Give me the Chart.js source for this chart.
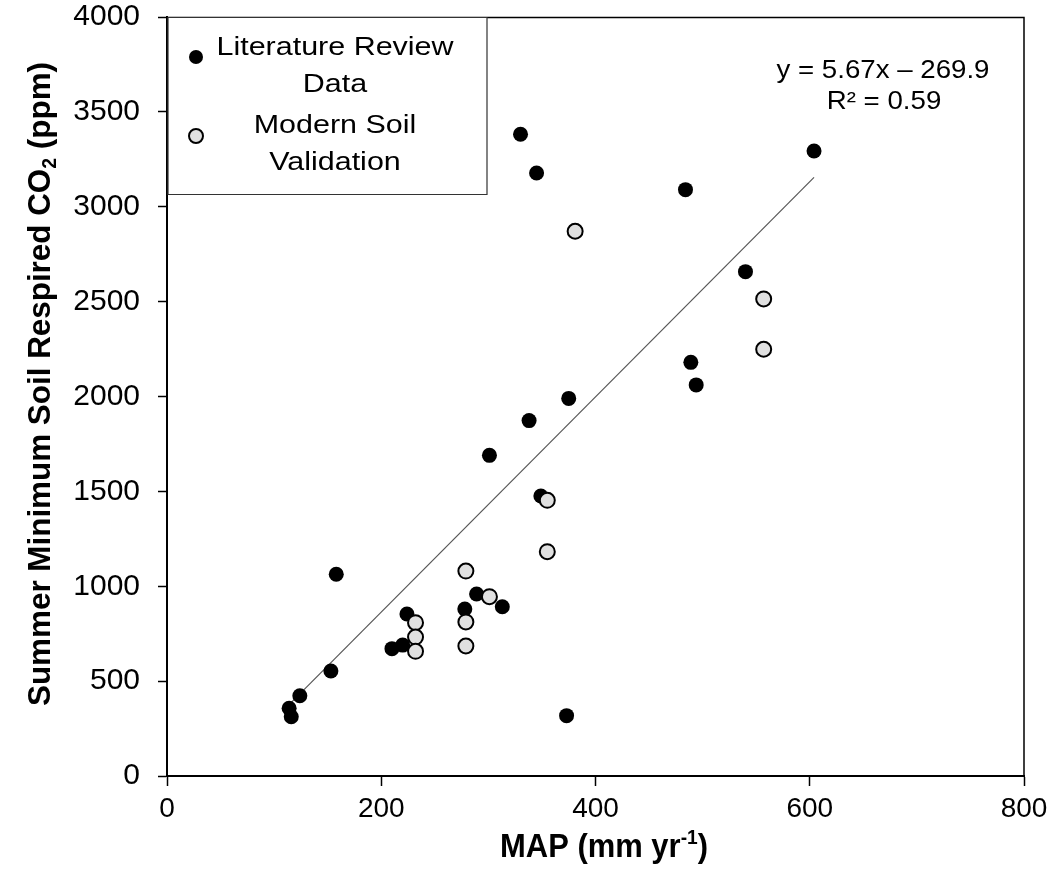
<!DOCTYPE html>
<html><head><meta charset="utf-8">
<script src="https://cdn.jsdelivr.net/npm/chart.js@4.4.1/dist/chart.umd.min.js"></script>
<style>html,body{margin:0;padding:0;background:#fff}#wrap{width:1054px;height:878px}</style>
</head><body><div id="wrap"><canvas id="c" width="1054" height="878"></canvas></div>
<script>
// ---- data ----
const litMAP = [114, 116, 124, 153, 158, 210, 220, 224, 278, 289, 313, 301, 338, 375, 330, 345, 349, 373, 484, 489, 494, 540, 604];
const litCO2 = [357, 312, 423, 553, 1063, 671, 690, 854, 880, 959, 892, 1690, 1873, 1990, 3382, 3178, 1476, 318, 3090, 2180, 2061, 2658, 3294];
const modMAP = [232, 232, 232, 279, 279, 279, 301, 355, 355, 381, 557, 557];
const modCO2 = [808, 732, 657, 1080, 812, 685, 945, 1453, 1182, 2871, 2514, 2249];
const trendMAP = [114, 604];
const trendCO2 = [376, 3155];
const xTicks = [0, 200, 400, 600, 800];
const yTicks = [0, 500, 1000, 1500, 2000, 2500, 3000, 3500, 4000];
const legendLabels = [["Literature Review", "Data"], ["Modern Soil", "Validation"]];
const eqLines = ["y = 5.67x \u2013 269.9", "R\u00b2 = 0.59"];

const toPts = (xs, ys) => xs.map((x, i) => ({x: x, y: ys[i]}));

function hasFont(name){
  const c = document.createElement('canvas').getContext('2d');
  c.font = '40px monospace'; const a = c.measureText('200 MAP Soil').width;
  c.font = "40px '" + name + "', monospace"; const b = c.measureText('200 MAP Soil').width;
  return Math.abs(a - b) > 0.5;
}
const narrow = hasFont('Liberation Sans Narrow');
const xTickFont = narrow ? {family: "'Liberation Sans Narrow'", size: 34} : {family: "'Liberation Sans', Arial, sans-serif", size: 28};

function richText(ctx, segs, cx, cy, size, weight, targetW, rot){
  let total = 0;
  const ms = segs.map(s => {
    const fs = s.sub || s.sup ? size * 0.62 : size;
    ctx.font = weight + ' ' + fs + "px 'Liberation Sans', Arial, sans-serif";
    const w = ctx.measureText(s.t).width; total += w; return {fs, w};
  });
  const sc = targetW ? targetW / total : 1;
  ctx.save();
  ctx.translate(cx, cy);
  if (rot) ctx.rotate(rot);
  ctx.scale(sc, 1);
  ctx.fillStyle = '#000';
  ctx.textAlign = 'left';
  ctx.textBaseline = 'alphabetic';
  let x = -total / 2;
  const base = size * 0.36;
  segs.forEach((s, i) => {
    ctx.font = weight + ' ' + ms[i].fs + "px 'Liberation Sans', Arial, sans-serif";
    let dy = 0;
    if (s.sub) dy = size * 0.2;
    if (s.sup) dy = -size * 0.38;
    ctx.fillText(s.t, x, base + dy);
    x += ms[i].w;
  });
  ctx.restore();
}

const decor = {
  id: 'decor',
  afterDraw(chart){
    const ctx = chart.ctx, a = chart.chartArea;
    ctx.save();
    ctx.strokeStyle = '#000'; ctx.lineWidth = 1.5;
    ctx.beginPath();
    ctx.moveTo(a.left, a.top + 0.5); ctx.lineTo(a.right, a.top + 0.5); ctx.lineTo(a.right, a.bottom);
    ctx.stroke();
    // legend box
    ctx.fillStyle = '#fff';
    ctx.strokeStyle = '#333'; ctx.lineWidth = 1.2;
    ctx.beginPath(); ctx.rect(a.left + 1, a.top + 0.5, 319, 177); ctx.fill(); ctx.stroke();
    // legend markers
    ctx.fillStyle = '#000';
    ctx.beginPath(); ctx.arc(196, 57, 7, 0, Math.PI * 2); ctx.fill();
    ctx.fillStyle = '#e0e0e0'; ctx.strokeStyle = '#000'; ctx.lineWidth = 2;
    ctx.beginPath(); ctx.arc(196, 136, 7, 0, Math.PI * 2); ctx.fill(); ctx.stroke();
    ctx.restore();
    // legend text
    const LS = 26;
    ctx.font = LS + "px 'Liberation Sans', Arial, sans-serif";
    const scL = 237 / ctx.measureText(legendLabels[0][0]).width;
    const ly = [[46, 83], [124, 161]];
    legendLabels.forEach((lab, i) => lab.forEach((t, j) => {
      ctx.font = LS + "px 'Liberation Sans', Arial, sans-serif";
      richText(ctx, [{t}], 335, ly[i][j], LS, 'normal', ctx.measureText(t).width * scL);
    }));
    // equation
    const ES = 25;
    ctx.font = ES + "px 'Liberation Sans', Arial, sans-serif";
    const scE = 213 / ctx.measureText(eqLines[0]).width;
    richText(ctx, [{t: eqLines[0]}], 883, 69, ES, 'normal', 213);
    ctx.font = ES + "px 'Liberation Sans', Arial, sans-serif";
    richText(ctx, [{t: eqLines[1]}], 884, 100, ES, 'normal', ctx.measureText(eqLines[1]).width * scE);
    // axis titles
    richText(ctx, [{t: 'Summer Minimum Soil Respired CO'}, {t: '2', sub: true}, {t: ' (ppm)'}], 38, 384, 32, 'bold', 644, -Math.PI / 2);
    richText(ctx, [{t: 'MAP (mm yr'}, {t: '-1', sup: true}, {t: ')'}], 604, 845, 34, 'bold', 208);
  }
};

new Chart(document.getElementById('c'), {
  type: 'scatter',
  data: {
    datasets: [
      {label: 'Modern Soil Validation', data: toPts(modMAP, modCO2), pointRadius: 7.5, pointHoverRadius: 7.5,
       pointBackgroundColor: '#e0e0e0', pointBorderColor: '#000', pointBorderWidth: 2, order: 0},
      {label: 'Literature Review Data', data: toPts(litMAP, litCO2), pointRadius: 7.5, pointHoverRadius: 7.5,
       pointBackgroundColor: '#000', pointBorderColor: '#000', pointBorderWidth: 0, order: 1},
      {type: 'line', label: 'trend', data: toPts(trendMAP, trendCO2), borderColor: '#555', borderWidth: 1.2,
       pointRadius: 0, fill: false, order: 2}
    ]
  },
  options: {
    responsive: false, animation: false, devicePixelRatio: 1,
    layout: {padding: {left: 0, top: 17, right: 30, bottom: 0}},
    plugins: {legend: {display: false}, tooltip: {enabled: false}},
    scales: {
      x: {type: 'linear', min: 0, max: 800,
          afterBuildTicks: s => { s.ticks = xTicks.map(v => ({value: v})); },
          ticks: {color: '#000', font: xTickFont, padding: 6, maxRotation: 0, callback: v => String(v)},
          grid: {drawOnChartArea: false, drawTicks: true, tickLength: 10, tickColor: '#000', tickWidth: 1.5},
          border: {color: '#000', width: 2},
          afterFit: s => { s.height = 102; s.paddingLeft = 0; s.paddingRight = 0; }},
      y: {type: 'linear', min: 0, max: 4000,
          afterBuildTicks: s => { s.ticks = yTicks.map(v => ({value: v})); },
          ticks: {color: '#000', font: {family: "'Liberation Sans', Arial, sans-serif", size: 30}, padding: 18, callback: v => String(v)},
          grid: {drawOnChartArea: false, drawTicks: true, tickLength: 9, tickColor: '#000', tickWidth: 1.5},
          border: {color: '#000', width: 2},
          afterFit: s => { s.width = 167; s.paddingTop = 0; s.paddingBottom = 0; }}
    }
  },
  plugins: [decor]
});
</script></body></html>
